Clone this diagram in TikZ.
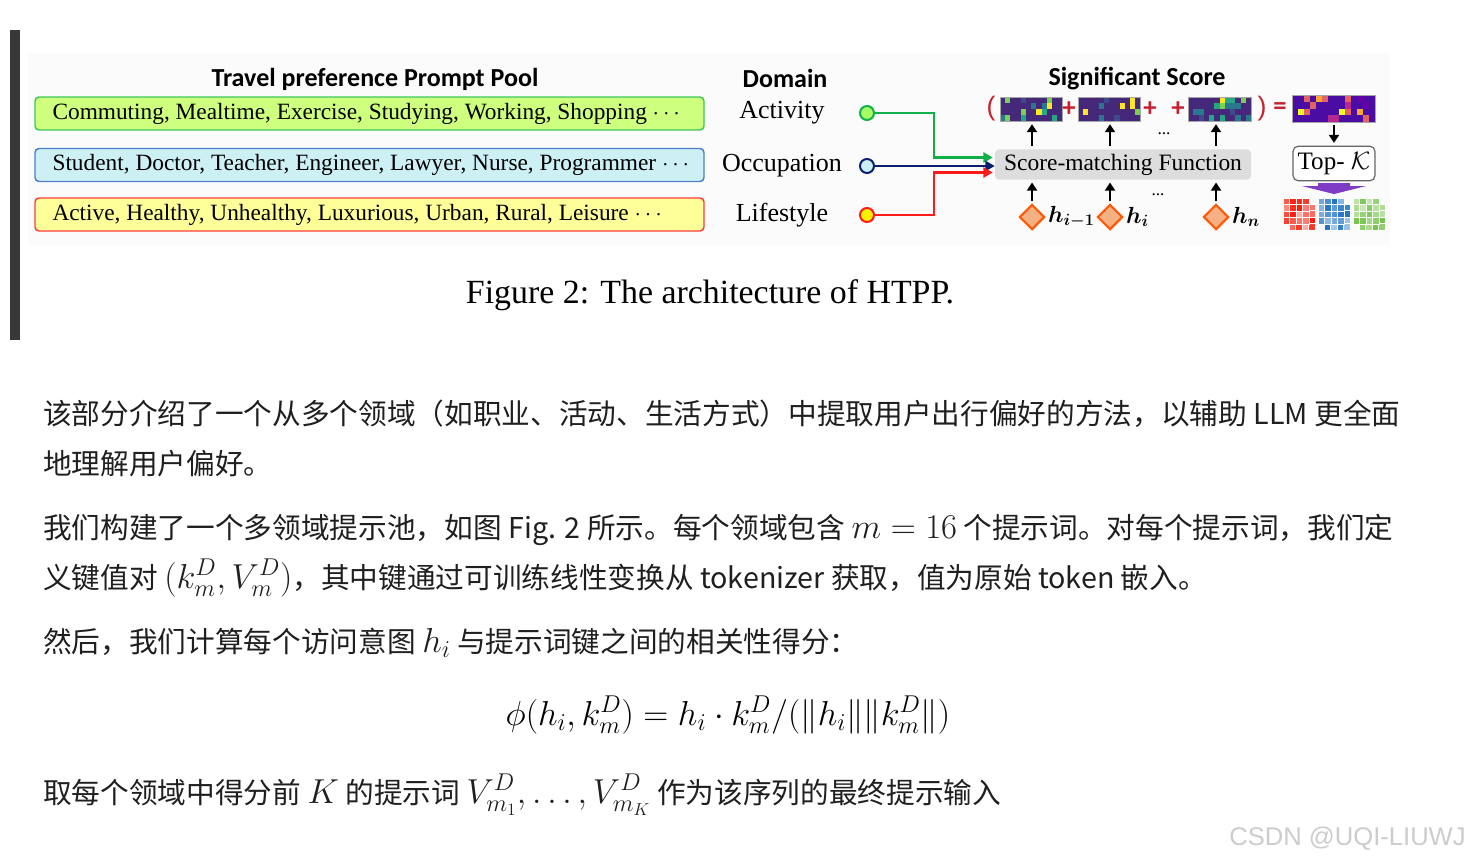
\documentclass[tikz,border=0pt]{standalone}
\usepackage{fix-cm}
\usepackage[no-math]{fontspec}
\usepackage{amsmath,amssymb,bm}
\setmainfont{Liberation Serif}
\newfontfamily\cjk{Noto Sans CJK SC}
\newfontfamily\calib{Carlito}
\newfontfamily\wmark{Liberation Sans}
\usetikzlibrary{arrows.meta,positioning,shapes.geometric,calc}
\definecolor{pgfill}{HTML}{CFFF7E}\definecolor{pgline}{HTML}{3CC85A}
\definecolor{pbfill}{HTML}{CDF0F5}\definecolor{pbline}{HTML}{4F7FC8}
\definecolor{pyfill}{HTML}{FFFF99}\definecolor{pyline}{HTML}{FF3C3C}
\definecolor{lgrn}{HTML}{10B048}\definecolor{lnav}{HTML}{0A1F6E}\definecolor{lred}{HTML}{FF1A1A}
\definecolor{dmd}{HTML}{F5B183}\definecolor{dmdl}{HTML}{FF5A0A}
\definecolor{opc}{HTML}{C8202E}\definecolor{purp}{HTML}{7E3CC6}
\definecolor{vir0}{HTML}{46287A}\definecolor{vir1}{HTML}{3E4A89}\definecolor{vir2}{HTML}{2A788E}
\definecolor{vir3}{HTML}{22A884}\definecolor{vir4}{HTML}{7AD151}\definecolor{vir5}{HTML}{FDE725}
\definecolor{pla0}{HTML}{4A0CA2}\definecolor{pla1}{HTML}{6A00A8}\definecolor{pla2}{HTML}{B12A90}
\definecolor{pla3}{HTML}{E16462}\definecolor{pla4}{HTML}{FCA636}\definecolor{pla5}{HTML}{F0F921}
\definecolor{tgr}{HTML}{FF1A0A}\definecolor{tgb}{HTML}{0A64C0}\definecolor{tgg}{HTML}{6CC040}
\newcommand\hmap[7]{\foreach \i in {1,...,#3}{\foreach \j in {1,...,#4}{%
  \pgfmathrandominteger{\r}{0}{17}\pgfmathtruncatemacro\c{max(\r-12,0)}%
  \fill[#7\c] ({#1+(\i-1)*#5},{#2+(\j-1)*#6}) rectangle +(#5,#6);}}}
\newcommand\tgrid[3]{\foreach \o in {6,0}{\foreach \i in {0,...,3}{\foreach \j in {0,...,3}{%
  \pgfmathrandominteger{\r}{35}{100}%
  \fill[#3!\r,draw=white,line width=.4pt] ({#1+\o+\i*6.5},{#2+\o+\j*6.5}) rectangle +(6.5,6.5);}}}}
\newcommand\mth[1]{{\fontsize{26}{28}\selectfont$#1$}}
\begin{document}
\begin{tikzpicture}[x=.75pt,y=-.75pt,
 pbox/.style={draw,rounded corners=3pt,line width=1.1pt,minimum width=501.75pt,minimum height=24.75pt},
 ptxt/.style={font=\fontsize{17.5}{20}\selectfont,inner sep=0pt},
 dom/.style={font=\fontsize{19.5}{22}\selectfont},
 head/.style={font=\calib\bfseries\fontsize{19.5}{22}\selectfont,anchor=base},
 dot/.style={circle,line width=1.5pt,minimum size=10.5pt,inner sep=0pt},
 feed/.style={line width=2pt,-{Triangle[length=7pt,width=7.5pt]}},
 up/.style={line width=2pt,-{Triangle[length=6pt,width=7.5pt]},shorten <=2pt,shorten >=2pt},
 hid/.style={diamond,fill=dmd,draw=dmdl,line width=1.6pt,minimum size=19pt,inner sep=0pt},
 hlab/.style={right=1.5pt of #1,inner sep=0pt,font=\fontsize{17.5}{20}\selectfont},
 op/.style={text=opc,font=\calib\bfseries\fontsize{20}{22}\selectfont,inner sep=0pt},
 frm/.style={draw=gray!70,line width=.4pt,inner sep=0pt,anchor=north west},
 body/.style={font=\cjk\fontsize{21.5}{26}\selectfont,text=black!88,anchor=base west,inner sep=0pt}]
\useasboundingbox (0,0) rectangle (1471,861);
\fill[white] (0,0) rectangle (1471,861);
\fill[black!1.5] (28,53) rectangle (1390,245);
\fill[black!78] (10,30) rectangle (20,340);
\pgfmathsetseed{11}
\node[head] (pool) at (375,86) {Travel preference Prompt Pool};
\node[pbox,fill=pgfill,draw=pgline] (pa) at (369.5,113.5) {};
\node[pbox,fill=pbfill,draw=pbline] (po) at (369.5,165) {};
\node[pbox,fill=pyfill,draw=pyline] (pl) at (369.5,214.5) {};
\node[ptxt,right=13.5pt of pa.west] (ta) {Commuting, Mealtime, Exercise, Studying, Working, Shopping $\cdots$};
\node[ptxt,right=13.5pt of po.west] (to) {Student, Doctor, Teacher, Engineer, Lawyer, Nurse, Programmer $\cdots$};
\node[ptxt,right=13.5pt of pl.west] (tl) {Active, Healthy, Unhealthy, Luxurious, Urban, Rural, Leisure $\cdots$};
\node[head] (dm) at (785,87) {Domain};
\node[dom] (da) at (782,113) {Activity};
\node[dom] (do) at (782,166) {Occupation};
\node[dom] (dl) at (782,215) {Lifestyle};
\node[dot,fill=pgfill!80!green,draw=lgrn] (ca) at (867,113) {};
\node[dot,fill=pbfill,draw=lnav] (co) at (867,166) {};
\node[dot,fill=yellow,draw=lred] (cl) at (867,215) {};
\node[fill=gray!27,rounded corners=3pt,minimum width=192pt,minimum height=22.5pt,font=\fontsize{17.6}{20}\selectfont] (smf) at (1123,164.5) {Score-matching Function};
\draw[feed,lgrn] (ca.east) -- ++(59,0) |- ($(smf.west)+(-2,-7)$);
\draw[feed,lnav] (co.east) -- (co -| smf.west);
\draw[feed,lred] (cl.east) -- ++(59,0) |- ($(smf.west)+(-2,8)$);
\node[head] (sig) at (1137,85) {Significant Score};
\hmap{1000}{97}{12}{4}{5.2}{6}{vir}
\hmap{1078}{97}{12}{4}{5.2}{6}{vir}
\hmap{1188}{97}{12}{4}{5.25}{6}{vir}
\hmap{1292}{95}{14}{4}{5.93}{6.75}{pla}
\node[frm,minimum width=46.5pt,minimum height=18pt] (m1) at (1000,97) {};
\node[frm,minimum width=46.5pt,minimum height=18pt] (m2) at (1078,97) {};
\node[frm,minimum width=47.25pt,minimum height=18pt] (m3) at (1188,97) {};
\node[frm,minimum width=62.25pt,minimum height=20.25pt] (mr) at (1292,95) {};
\node[op,font=\wmark\fontsize{20}{22}\selectfont] (lp) at (991,109) {(};
\node[op] (p1) at (1069,109) {+};
\node[op] (p2) at (1150,109) {+};
\node[op] (p3) at (1178,109) {+};
\node[op,font=\wmark\fontsize{20}{22}\selectfont] (rp) at (1262,109) {)};
\node[op] (eq) at (1280,109) {=};
\node[hid] (d1) at (1032,217) {};
\node[hid] (d2) at (1110,217) {};
\node[hid] (d3) at (1216,217) {};
\node[hlab=d1] (h1) {$\bm{h_{i-1}}$};
\node[hlab=d2] (h2) {$\bm{h_{i}}$};
\node[hlab=d3] (h3) {$\bm{h_{n}}$};
\foreach \d/\m in {d1/m1,d2/m2,d3/m3}{
\draw[up] (\d.north) -- (\d |- smf.south);
\draw[up] (\d |- smf.north) -- (\d |- \m.south);}
\node[font=\fontsize{13}{13}\selectfont,inner sep=0pt] (e1) at (1164,134) {...};
\node[font=\fontsize{13}{13}\selectfont,inner sep=0pt] (e2) at (1158,195) {...};
\node[draw=gray!80!black,fill=white,rounded corners=4pt,line width=.9pt,minimum width=61.5pt,minimum height=26pt,inner sep=1pt,font=\fontsize{18.8}{20}\selectfont] (tk) at (1334,163.5) {Top- $\mathcal{K}$};
\draw[up] (tk |- mr.south) -- (tk.north);
\fill[purp] (1318,183) -- (1350,183) -- (1350,186) -- (1366,186) -- (1334,194) -- (1302,186) -- (1318,186) -- cycle;
\tgrid{1283}{198}{tgr}
\tgrid{1318}{198}{tgb}
\tgrid{1353}{198}{tgg}
\node[font=\fontsize{25.4}{28}\selectfont,anchor=base] (cap) at (710,303) {Figure 2: The architecture of HTPP.};
\node[body] (t1) at (43,424) {该部分介绍了一个从多个领域（如职业、活动、生活方式）中提取用户出行偏好的方法，以辅助 LLM 更全面};
\node[body] (t2) at (43,474) {地理解用户偏好。};
\node[body] (t3) at (43,538) {我们构建了一个多领域提示池，如图 Fig. 2 所示。每个领域包含 \mth{m=16} 个提示词。对每个提示词，我们定};
\node[body] (t4) at (43,588) {义键值对 \mth{(k_m^D, V_m^D)}，其中键通过可训练线性变换从 tokenizer 获取，值为原始 token 嵌入。};
\node[body] (t5) at (43,652) {然后，我们计算每个访问意图 \mth{h_i} 与提示词键之间的相关性得分：};
\node[font=\fontsize{26}{28}\selectfont,anchor=base,inner sep=0pt] (fm) at (728,725) {$\phi(h_i, k_m^D) = h_i \cdot k_m^D / (\|h_i\| \|k_m^D\|)$};
\node[body] (t6) at (43,803) {取每个领域中得分前 \mth{K} 的提示词 \mth{V_{m_1}^D, \ldots, V_{m_K}^D} 作为该序列的最终提示输入};
\node[font=\wmark\fontsize{19.2}{22}\selectfont,text=black!20,anchor=base east,inner sep=0pt] (wm) at (1466,845) {CSDN @UQI-LIUWJ};
\end{tikzpicture}
\end{document}
